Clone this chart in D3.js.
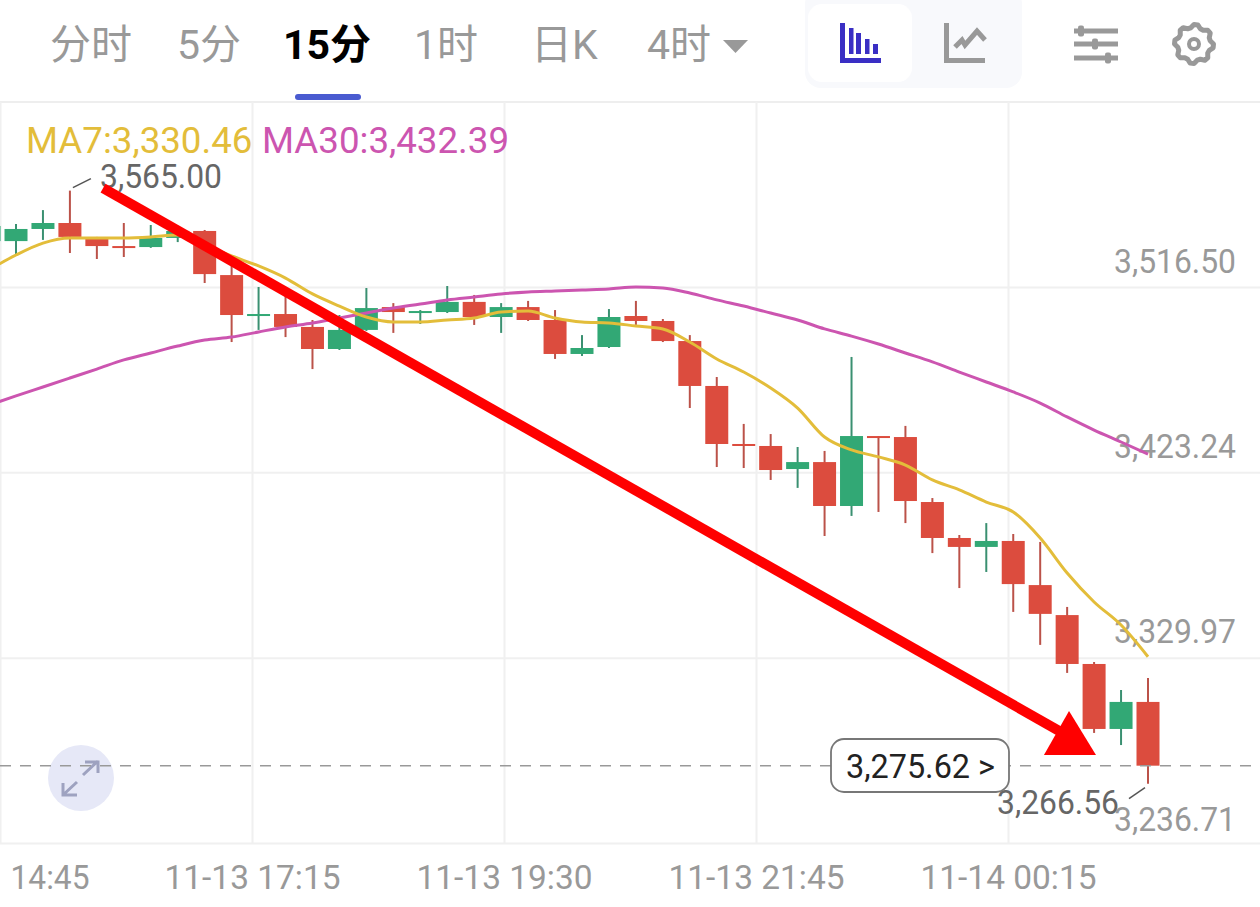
<!DOCTYPE html>
<html>
<head>
<meta charset="utf-8">
<script src="https://cdn.jsdelivr.net/npm/d3@7"></script>
<style>
    html, body { margin: 0; padding: 0; background: #fff; overflow: hidden; }
    svg { display: block; }
    text { font-family: Roboto, "Noto Sans CJK SC", sans-serif; }
    .grid line { stroke: #f0f0f0; stroke-width: 2; }
    .grid path { display: none; }
    .price-axis text, .time-axis text { fill: #999; font-size: 34px; }
</style>
</head>
<body>
<div id="chart"></div>
<script>
var tabLabels = ['分时', '5分', '15分', '1时', '日K', '4时'];
var activeTab = '15分';
var priceTicks = [3516.50, 3423.24, 3329.97, 3236.71];
var timeTicks = ['14:45', '11-13 17:15', '11-13 19:30', '11-13 21:45', '11-14 00:15'];
var lastPrice = 3275.62;
var highPrice = 3565.00;
var lowPrice = 3266.56;
var ma7Label = 'MA7:3,330.46';
var ma30Label = 'MA30:3,432.39';

var opens = [3539.6, 3539.6, 3545.7, 3548.7, 3540.7, 3537.1, 3536.6, 3541.2, 3544.7, 3522.5, 3502.4,
    3502.9, 3496.4, 3485.3, 3494.9, 3506.4, 3503.9, 3503.9, 3509.0, 3501.4, 3506.4, 3499.9,
    3482.8, 3486.3, 3501.9, 3499.4, 3489.3, 3466.7, 3437.5, 3436.5, 3424.9, 3428.4, 3406.3,
    3441.5, 3441.0, 3408.3, 3390.2, 3385.7, 3388.7, 3366.5, 3351.4, 3326.8, 3294.1, 3307.7];
var highs = [3549.0, 3548.2, 3555.2, 3565.0, 3541.7, 3548.7, 3547.7, 3545.7, 3545.2, 3527.6, 3516.5,
    3512.0, 3499.9, 3502.4, 3516.0, 3508.4, 3504.9, 3517.0, 3512.5, 3508.4, 3509.5, 3504.9,
    3492.3, 3505.4, 3509.5, 3500.4, 3492.3, 3471.2, 3447.6, 3442.5, 3436.0, 3434.0, 3481.3,
    3441.5, 3446.6, 3410.3, 3391.7, 3397.7, 3392.2, 3388.2, 3355.5, 3327.8, 3313.7, 3319.8];
var lows = [3534.0, 3532.6, 3540.2, 3533.6, 3530.6, 3531.6, 3536.2, 3539.1, 3518.5, 3488.8, 3494.9,
    3491.3, 3475.2, 3484.8, 3494.4, 3493.4, 3497.9, 3503.4, 3497.4, 3493.4, 3499.4, 3480.3,
    3481.8, 3485.8, 3497.4, 3488.8, 3455.6, 3425.9, 3425.4, 3419.4, 3415.4, 3391.2, 3401.3,
    3403.3, 3397.7, 3382.6, 3365.0, 3373.1, 3353.0, 3336.4, 3322.3, 3292.1, 3286.0, 3266.56];
var closes = [3547.2, 3545.7, 3548.7, 3541.7, 3537.1, 3536.6, 3541.2, 3544.7, 3523.0, 3502.4, 3502.9,
    3496.4, 3485.3, 3494.9, 3505.9, 3503.9, 3504.4, 3509.0, 3501.4, 3506.4, 3499.9, 3482.8,
    3485.8, 3501.4, 3499.4, 3489.3, 3466.7, 3437.5, 3437.0, 3424.4, 3428.4, 3406.3, 3441.5,
    3441.0, 3408.8, 3390.2, 3385.7, 3388.7, 3367.0, 3352.0, 3326.8, 3294.1, 3307.7, 3275.62];
var ma7 = [3525.1, 3532.6, 3538.6, 3541.2, 3541.2, 3541.2, 3541.7, 3542.7, 3537.6, 3532.1, 3527.1,
    3521.0, 3513.0, 3506.9, 3501.4, 3498.9, 3498.9, 3499.9, 3500.9, 3503.9, 3504.4, 3500.9,
    3498.9, 3498.4, 3496.9, 3495.4, 3488.8, 3480.3, 3473.7, 3465.7, 3455.6, 3441.0, 3434.5,
    3431.0, 3426.9, 3419.4, 3414.4, 3408.3, 3403.3, 3390.2, 3372.6, 3358.0, 3346.4, 3330.46];
var ma30 = [3457.1, 3461.7, 3466.2, 3470.7, 3475.2, 3479.8, 3483.3, 3486.8, 3489.8, 3491.3, 3493.9,
    3496.4, 3498.4, 3500.9, 3503.4, 3505.9, 3507.9, 3510.0, 3511.5, 3513.0, 3514.0, 3514.5,
    3515.0, 3515.5, 3516.5, 3516.0, 3513.5, 3510.0, 3506.9, 3503.4, 3499.9, 3495.4, 3491.8,
    3487.8, 3483.3, 3478.8, 3473.7, 3468.7, 3463.7, 3458.1, 3451.1, 3444.5, 3438.5, 3432.39];

// hand drawn arrow on top of the chart, in candle index / price
var arrowLine = [[4.23, 3566.3], [39.96, 3291.1]];
var arrowHead = [[39.14, 3281.0], [41.07, 3281.0], [40.07, 3303.1]];

var config = {
    width: 1260,
    height: 907,
    chartTop: 102,
    chartBottom: 843,
    tabX: [50, 177, 283, 414, 531, 647],
    red: '#dc4c3e',
    green: '#32a875',
    redWick: '#bb5249',
    greenWick: '#3a9071',
    yellow: '#e3bd3a',
    purple: '#cc55b0',
    grey: '#999'
};

var x = d3.scaleLinear().domain([0, opens.length - 1]).range([-10.95, 1148]);
var y = d3.scaleLinear()
    .domain([priceTicks[3], priceTicks[0]])
    .range([config.chartBottom, 287]);
var xTime = d3.scalePoint().domain(timeTicks).range([0, 1008]);

var svg = d3.select('#chart').append('svg')
    .attr('width', config.width)
    .attr('height', config.height);

function drawTabs() {
    var g = svg.append('g').classed('tabs', true);
    g.selectAll('text')
        .data(tabLabels)
        .join('text')
        .attr('x', function(d, i) { return config.tabX[i]; })
        .attr('y', 59)
        .style('font-size', '41px')
        .style('font-weight', function(d) { return d === activeTab ? 700 : 400; })
        .style('fill', function(d) { return d === activeTab ? '#000' : config.grey; })
        .text(function(d) { return d; });

    g.append('path')
        .attr('d', 'M723,40H748L735.5,53Z')
        .style('fill', config.grey);

    g.append('rect')
        .attr('x', 295).attr('y', 94)
        .attr('width', 66).attr('height', 6)
        .attr('rx', 3)
        .style('fill', '#4a5bd0');
}

function drawIcons() {
    var g = svg.append('g').classed('icons', true);

    g.append('rect')
        .attr('x', 805).attr('y', -12)
        .attr('width', 217).attr('height', 100)
        .attr('rx', 16)
        .style('fill', '#f8f9fc');
    g.append('rect')
        .attr('x', 808).attr('y', 4)
        .attr('width', 104).attr('height', 78)
        .attr('rx', 14)
        .style('fill', '#fff');

    // candle mode icon
    g.append('path')
        .attr('d', 'M840,23h5v35h36v5h-41Z M849,28h4.500v26h-4.500Z M856,33h5v21h-5Z M865,39h4.500v15h-4.500Z M873,44h5v10h-5Z')
        .style('fill', '#3a2fc4');

    // line mode icon
    g.append('path')
        .attr('d', 'M944,23h5v35h36v5h-41Z')
        .style('fill', config.grey);
    g.append('path')
        .attr('d', 'M955,47L962,40L965,45L977,31L985,40')
        .style('fill', 'none')
        .style('stroke', config.grey)
        .style('stroke-width', 5);

    // sliders
    [[31, 1081], [44, 1095], [58, 1108]].forEach(function(s) {
        g.append('rect')
            .attr('x', 1074).attr('y', s[0] - 2.5)
            .attr('width', 44).attr('height', 5)
            .style('fill', config.grey);
        g.append('rect')
            .attr('x', s[1] - 3).attr('y', s[0] - 5.5)
            .attr('width', 6).attr('height', 11)
            .attr('rx', 2)
            .style('fill', config.grey);
    });

    // gear
    var gearPoints = d3.range(32).map(function(i) {
        return [i * Math.PI / 16, i % 4 < 2 ? 19.5 : 16.5];
    });
    g.append('path')
        .attr('transform', 'translate(1194,44)')
        .attr('d', d3.lineRadial().curve(d3.curveLinearClosed)(gearPoints))
        .style('fill', 'none')
        .style('stroke', config.grey)
        .style('stroke-width', 5)
        .style('stroke-linejoin', 'round');
    g.append('circle')
        .attr('cx', 1194).attr('cy', 44).attr('r', 5)
        .style('fill', 'none')
        .style('stroke', config.grey)
        .style('stroke-width', 4);
}

function fit(sel, width) {
    sel.attr('textLength', width).attr('lengthAdjust', 'spacingAndGlyphs');
}

function drawAxes() {
    svg.append('line')
        .attr('x1', 0).attr('x2', config.width)
        .attr('y1', config.chartTop).attr('y2', config.chartTop)
        .style('stroke', '#eee')
        .style('stroke-width', 2);

    var priceAxis = d3.axisRight(y)
        .tickValues(priceTicks)
        .tickSize(config.width)
        .tickPadding(-24)
        .tickFormat(d3.format(',.2f'));

    var gy = svg.append('g').classed('grid price-axis', true).call(priceAxis);
    gy.selectAll('text')
        .attr('dy', function(d, i) { return i === 3 ? -13 : -15; })
        .style('text-anchor', 'end')
        .call(fit, 122);

    var timeAxis = d3.axisBottom(xTime)
        .tickSize(-(config.chartBottom - config.chartTop))
        .tickPadding(0);

    var gx = svg.append('g')
        .classed('grid time-axis', true)
        .attr('transform', 'translate(0,' + config.chartBottom + ')')
        .call(timeAxis);
    gx.selectAll('text')
        .attr('y', 46).attr('dy', 0)
        .call(fit, 176);

    // the first label runs off the left edge in the app, only its time part shows
    gx.selectAll('text')
        .filter(function(d, i) { return i === 0; })
        .attr('x', 10)
        .style('text-anchor', 'start')
        .call(fit, 79);
}

function drawCandles() {
    var bandWidth = 23;

    var candles = opens.map(function(o, i) {
        return { i: i, open: o, high: highs[i], low: lows[i], close: closes[i] };
    });

    var g = svg.append('g').classed('candles', true)
        .selectAll('g')
        .data(candles)
        .join('g');

    g.append('line')
        .attr('x1', function(d) { return x(d.i); })
        .attr('x2', function(d) { return x(d.i); })
        .attr('y1', function(d) { return y(d.high); })
        .attr('y2', function(d) { return y(d.low); })
        .style('stroke', function(d) { return d.close >= d.open ? config.greenWick : config.redWick; })
        .style('stroke-width', 2);

    g.append('rect')
        .attr('x', function(d) { return x(d.i) - bandWidth / 2; })
        .attr('y', function(d) { return y(Math.max(d.open, d.close)); })
        .attr('width', bandWidth)
        .attr('height', function(d) {
            return Math.max(2, Math.abs(y(d.open) - y(d.close)));
        })
        .style('fill', function(d) { return d.close >= d.open ? config.green : config.red; });
}

function drawLines() {
    var line = d3.line()
        .x(function(d, i) { return x(i); })
        .y(function(d) { return y(d); })
        .curve(d3.curveMonotoneX);

    svg.append('path')
        .attr('d', line(ma30))
        .style('fill', 'none')
        .style('stroke', config.purple)
        .style('stroke-width', 3);

    svg.append('path')
        .attr('d', line(ma7))
        .style('fill', 'none')
        .style('stroke', config.yellow)
        .style('stroke-width', 3);

    svg.append('text')
        .attr('x', 26).attr('y', 153)
        .style('font-size', '36.7px')
        .style('fill', config.yellow)
        .text(ma7Label);

    svg.append('text')
        .attr('x', 262).attr('y', 153)
        .style('font-size', '36.7px')
        .style('fill', config.purple)
        .text(ma30Label);
}

function drawPriceMarks() {
    var fmt = d3.format(',.2f');
    var highIndex = highs.indexOf(highPrice);
    var lowIndex = lows.indexOf(lowPrice);

    svg.append('line')
        .attr('x1', x(highIndex) + 3).attr('y1', y(highPrice) - 3)
        .attr('x2', x(highIndex) + 21).attr('y2', y(highPrice) - 12)
        .style('stroke', '#555')
        .style('stroke-width', 1.500);
    svg.append('text')
        .attr('x', 100).attr('y', 188)
        .style('font-size', '34px')
        .style('fill', '#666')
        .text(fmt(highPrice))
        .call(fit, 122);

    svg.append('line')
        .attr('x1', x(lowIndex) - 3).attr('y1', y(lowPrice) + 4)
        .attr('x2', x(lowIndex) - 19).attr('y2', y(lowPrice) + 15)
        .style('stroke', '#555')
        .style('stroke-width', 1.500);
    svg.append('text')
        .attr('x', 997).attr('y', 814)
        .style('font-size', '34px')
        .style('fill', '#666')
        .text(fmt(lowPrice))
        .call(fit, 122);

    // expand button sits under the dashed line
    var b = svg.append('g').attr('transform', 'translate(81,778)');
    b.append('circle').attr('r', 33).style('fill', '#e6e8f7');
    b.append('path')
        .attr('d', 'M2,-3L17,-17M4,-16H17V-5M-4,4L-18,17M-4,17H-18V5')
        .style('fill', 'none')
        .style('stroke', '#9ea2c0')
        .style('stroke-width', 3);

    svg.append('line')
        .attr('x1', 0).attr('x2', config.width)
        .attr('y1', y(lastPrice)).attr('y2', y(lastPrice))
        .style('stroke', '#999')
        .style('stroke-width', 1.500)
        .style('stroke-dasharray', '11,9');

    svg.append('rect')
        .attr('x', 831).attr('y', 739)
        .attr('width', 178).attr('height', 53)
        .attr('rx', 13)
        .style('fill', '#fff')
        .style('stroke', '#777')
        .style('stroke-width', 1.800);
    svg.append('text')
        .attr('x', 846).attr('y', 778)
        .style('font-size', '34px')
        .style('fill', '#222')
        .text(fmt(lastPrice) + ' >')
        .call(fit, 149);
}

function drawArrow() {
    svg.append('line')
        .attr('x1', x(arrowLine[0][0])).attr('y1', y(arrowLine[0][1]))
        .attr('x2', x(arrowLine[1][0])).attr('y2', y(arrowLine[1][1]))
        .style('stroke', '#f00')
        .style('stroke-width', 10);

    svg.append('path')
        .attr('d', d3.line()
            .x(function(d) { return x(d[0]); })
            .y(function(d) { return y(d[1]); })
            .curve(d3.curveLinearClosed)(arrowHead))
        .style('fill', '#f00');
}

function update() {
    drawTabs();
    drawIcons();
    drawAxes();
    drawCandles();
    drawLines();
    drawPriceMarks();
    drawArrow();
}

update();
</script>
</body>
</html>
